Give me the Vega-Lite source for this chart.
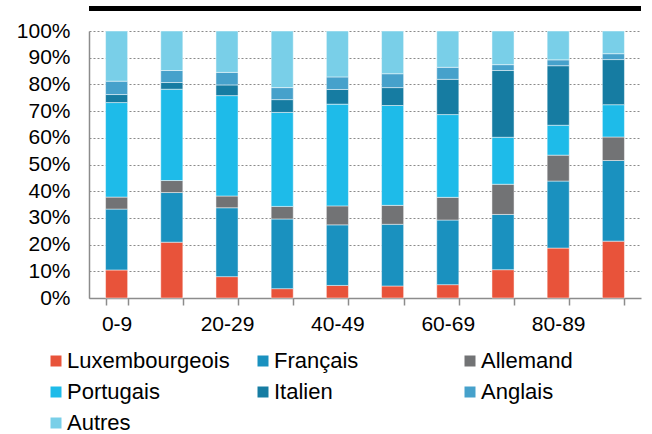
{
  "$schema": "https://vega.github.io/schema/vega-lite/v6.json",
  "width": 552,
  "height": 267,
  "autosize": "none",
  "padding": {"left": 89, "top": 31, "right": 11, "bottom": 136},
  "background": "white",
  "config": {
    "font": "Liberation Sans",
    "view": {"stroke": null}
  },
  "data": {
    "values": [
      {"age": "0-9", "langue": "Luxembourgeois", "rang": 1, "part": 10.5},
      {"age": "0-9", "langue": "Français", "rang": 2, "part": 22.8},
      {"age": "0-9", "langue": "Allemand", "rang": 3, "part": 4.5},
      {"age": "0-9", "langue": "Portugais", "rang": 4, "part": 35.4},
      {"age": "0-9", "langue": "Italien", "rang": 5, "part": 3.0},
      {"age": "0-9", "langue": "Anglais", "rang": 6, "part": 5.0},
      {"age": "0-9", "langue": "Autres", "rang": 7, "part": 18.8},
      {"age": "10-19", "langue": "Luxembourgeois", "rang": 1, "part": 20.9},
      {"age": "10-19", "langue": "Français", "rang": 2, "part": 18.6},
      {"age": "10-19", "langue": "Allemand", "rang": 3, "part": 4.5},
      {"age": "10-19", "langue": "Portugais", "rang": 4, "part": 34.2},
      {"age": "10-19", "langue": "Italien", "rang": 5, "part": 2.5},
      {"age": "10-19", "langue": "Anglais", "rang": 6, "part": 4.5},
      {"age": "10-19", "langue": "Autres", "rang": 7, "part": 14.8},
      {"age": "20-29", "langue": "Luxembourgeois", "rang": 1, "part": 8.0},
      {"age": "20-29", "langue": "Français", "rang": 2, "part": 25.8},
      {"age": "20-29", "langue": "Allemand", "rang": 3, "part": 4.4},
      {"age": "20-29", "langue": "Portugais", "rang": 4, "part": 37.6},
      {"age": "20-29", "langue": "Italien", "rang": 5, "part": 4.0},
      {"age": "20-29", "langue": "Anglais", "rang": 6, "part": 4.7},
      {"age": "20-29", "langue": "Autres", "rang": 7, "part": 15.5},
      {"age": "30-39", "langue": "Luxembourgeois", "rang": 1, "part": 3.5},
      {"age": "30-39", "langue": "Français", "rang": 2, "part": 26.1},
      {"age": "30-39", "langue": "Allemand", "rang": 3, "part": 4.7},
      {"age": "30-39", "langue": "Portugais", "rang": 4, "part": 35.2},
      {"age": "30-39", "langue": "Italien", "rang": 5, "part": 4.8},
      {"age": "30-39", "langue": "Anglais", "rang": 6, "part": 4.5},
      {"age": "30-39", "langue": "Autres", "rang": 7, "part": 21.2},
      {"age": "40-49", "langue": "Luxembourgeois", "rang": 1, "part": 4.7},
      {"age": "40-49", "langue": "Français", "rang": 2, "part": 22.7},
      {"age": "40-49", "langue": "Allemand", "rang": 3, "part": 7.1},
      {"age": "40-49", "langue": "Portugais", "rang": 4, "part": 38.1},
      {"age": "40-49", "langue": "Italien", "rang": 5, "part": 5.5},
      {"age": "40-49", "langue": "Anglais", "rang": 6, "part": 4.7},
      {"age": "40-49", "langue": "Autres", "rang": 7, "part": 17.2},
      {"age": "50-59", "langue": "Luxembourgeois", "rang": 1, "part": 4.5},
      {"age": "50-59", "langue": "Français", "rang": 2, "part": 23.1},
      {"age": "50-59", "langue": "Allemand", "rang": 3, "part": 7.1},
      {"age": "50-59", "langue": "Portugais", "rang": 4, "part": 37.4},
      {"age": "50-59", "langue": "Italien", "rang": 5, "part": 6.7},
      {"age": "50-59", "langue": "Anglais", "rang": 6, "part": 5.2},
      {"age": "50-59", "langue": "Autres", "rang": 7, "part": 16.0},
      {"age": "60-69", "langue": "Luxembourgeois", "rang": 1, "part": 5.0},
      {"age": "60-69", "langue": "Français", "rang": 2, "part": 24.2},
      {"age": "60-69", "langue": "Allemand", "rang": 3, "part": 8.5},
      {"age": "60-69", "langue": "Portugais", "rang": 4, "part": 31.0},
      {"age": "60-69", "langue": "Italien", "rang": 5, "part": 13.2},
      {"age": "60-69", "langue": "Anglais", "rang": 6, "part": 4.5},
      {"age": "60-69", "langue": "Autres", "rang": 7, "part": 13.6},
      {"age": "70-79", "langue": "Luxembourgeois", "rang": 1, "part": 10.6},
      {"age": "70-79", "langue": "Français", "rang": 2, "part": 20.7},
      {"age": "70-79", "langue": "Allemand", "rang": 3, "part": 11.3},
      {"age": "70-79", "langue": "Portugais", "rang": 4, "part": 17.6},
      {"age": "70-79", "langue": "Italien", "rang": 5, "part": 25.0},
      {"age": "70-79", "langue": "Anglais", "rang": 6, "part": 2.2},
      {"age": "70-79", "langue": "Autres", "rang": 7, "part": 12.6},
      {"age": "80-89", "langue": "Luxembourgeois", "rang": 1, "part": 18.7},
      {"age": "80-89", "langue": "Français", "rang": 2, "part": 25.1},
      {"age": "80-89", "langue": "Allemand", "rang": 3, "part": 9.7},
      {"age": "80-89", "langue": "Portugais", "rang": 4, "part": 11.2},
      {"age": "80-89", "langue": "Italien", "rang": 5, "part": 22.3},
      {"age": "80-89", "langue": "Anglais", "rang": 6, "part": 2.2},
      {"age": "80-89", "langue": "Autres", "rang": 7, "part": 10.8},
      {"age": "90+", "langue": "Luxembourgeois", "rang": 1, "part": 21.3},
      {"age": "90+", "langue": "Français", "rang": 2, "part": 30.2},
      {"age": "90+", "langue": "Allemand", "rang": 3, "part": 8.8},
      {"age": "90+", "langue": "Portugais", "rang": 4, "part": 12.1},
      {"age": "90+", "langue": "Italien", "rang": 5, "part": 16.9},
      {"age": "90+", "langue": "Anglais", "rang": 6, "part": 2.2},
      {"age": "90+", "langue": "Autres", "rang": 7, "part": 8.5}
    ]
  },
  "resolve": {"axis": {"y": "independent"}},
  "layer": [
    {
      "mark": {"type": "bar", "stroke": "#ffffff", "strokeWidth": 0.8, "strokeOpacity": 0.6},
      "encoding": {
        "x": {
          "field": "age",
          "type": "nominal",
          "sort": null,
          "scale": {"paddingInner": 0.6, "paddingOuter": 0.3},
          "axis": {
            "title": null,
            "labelAngle": 0,
            "tickBand": "extent",
            "labelExpr": "indexof(['0-9','20-29','40-49','60-69','80-89'], datum.value) >= 0 ? datum.value : ''",
            "labelOverlap": false,
            "labelFont": "Liberation Sans",
            "labelFontSize": 21,
            "labelColor": "#000000",
            "labelPadding": 8,
            "domainColor": "#8c8c8c",
            "domainWidth": 1.5,
            "tickColor": "#8c8c8c",
            "tickWidth": 1.5,
            "tickSize": 7,
            "grid": false
          }
        },
        "y": {
          "field": "part",
          "type": "quantitative",
          "stack": "normalize",
          "scale": {"domain": [0, 1], "nice": false},
          "axis": {
            "title": null,
            "orient": "left",
            "format": ".0%",
            "values": [0, 0.1, 0.2, 0.3, 0.4, 0.5, 0.6, 0.7, 0.8, 0.9, 1],
            "labelOverlap": false,
            "labelFont": "Liberation Sans",
            "labelFontSize": 21,
            "labelColor": "#000000",
            "labelPadding": 19,
            "ticks": false,
            "domainColor": "#8c8c8c",
            "domainWidth": 1.5,
            "grid": true,
            "gridColor": "#8a8a8a",
            "gridDash": [2, 2],
            "gridWidth": 1
          }
        },
        "order": {"field": "rang", "type": "quantitative", "sort": "ascending"},
        "color": {
          "field": "langue",
          "type": "nominal",
          "sort": ["Luxembourgeois", "Français", "Allemand", "Portugais", "Italien", "Anglais", "Autres"],
          "scale": {
            "domain": ["Luxembourgeois", "Français", "Allemand", "Portugais", "Italien", "Anglais", "Autres"],
            "range": ["#E8533A", "#1A91BF", "#727375", "#1EBBE9", "#167CA2", "#46A1CB", "#79CFE8"]
          },
          "legend": {
            "title": null,
            "orient": "none",
            "legendX": -44,
            "legendY": 319,
            "direction": "horizontal",
            "columns": 3,
            "gridAlign": "all",
            "columnPadding": 22,
            "rowPadding": 9,
            "padding": 0,
            "symbolType": "square",
            "symbolSize": 121,
            "symbolStrokeWidth": 0,
            "labelFont": "Liberation Sans",
            "labelFontSize": 22,
            "labelColor": "#000000",
            "labelOffset": 0,
            "labelLimit": 300
          }
        }
      }
    },
    {
      "mark": {"type": "rule", "color": "#000000", "strokeWidth": 5, "clip": false},
      "encoding": {
        "y": {"datum": 1.084, "axis": null}
      }
    }
  ]
}
